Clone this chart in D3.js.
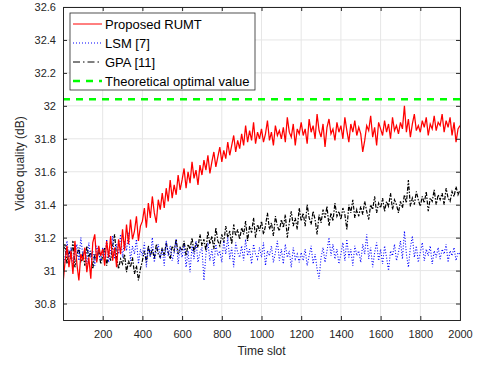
<!DOCTYPE html>
<html lang="en">
<head>
<meta charset="UTF-8">
<title>Video quality vs time slot</title>
<script src="https://d3js.org/d3.v7.min.js"></script>
<style>
    body { margin: 0; background: #fff; }
    svg { display: block; font-family: "Liberation Sans", Arial, sans-serif; }
    .tick text { font-size: 11px; fill: #262626; }
    .legend text { font-size: 13px; fill: #000; }
</style>
</head>
<body>
<svg id="chart" width="481" height="367"></svg>
<script>
// time slots sampled every 10 slots (0 .. 2000)
const slotStep = 10;

// Proposed RUMT
const rumt = [
    30.92, 31.05, 31.15, 31.02, 31.12, 30.98, 31.18, 31.04, 30.94, 31.10,
    31.06, 31.14, 30.99, 31.08, 30.95, 31.17, 31.22, 31.05, 31.15, 31.09,
    31.13, 31.03, 31.18, 31.08, 31.21, 31.06, 31.14, 31.02, 31.19, 31.10,
    31.25, 31.12, 31.28, 31.16, 31.31, 31.19, 31.24, 31.33, 31.18, 31.27,
    31.30, 31.38, 31.26, 31.41, 31.32, 31.45, 31.35, 31.29, 31.43, 31.37,
    31.47, 31.38, 31.50, 31.42, 31.55, 31.44, 31.52, 31.46, 31.58, 31.49,
    31.55, 31.62, 31.50, 31.60, 31.53, 31.66, 31.56, 31.61, 31.52, 31.64,
    31.58, 31.67, 31.61, 31.70, 31.59, 31.66, 31.72, 31.63, 31.69, 31.75,
    31.66, 31.73, 31.68, 31.78, 31.70, 31.76, 31.82, 31.72, 31.79, 31.74,
    31.83, 31.76, 31.88, 31.78, 31.85, 31.79, 31.90, 31.77, 31.84, 31.80,
    31.86, 31.78, 31.83, 31.91, 31.79, 31.84, 31.76, 31.88, 31.82, 31.85,
    31.80, 31.87, 31.78, 31.93, 31.84, 31.81, 31.89, 31.76, 31.86, 31.83,
    31.90, 31.82, 31.86, 31.77, 31.92, 31.84, 31.88, 31.80, 31.95, 31.85,
    31.81, 31.89, 31.75, 31.87, 31.92, 31.83, 31.86, 31.79, 31.90, 31.84,
    31.88, 31.80, 31.93, 31.85, 31.78, 31.89, 31.84, 31.91, 31.82, 31.87,
    31.83, 31.72, 31.79, 31.88, 31.85, 31.94, 31.81, 31.87, 31.76, 31.90,
    31.86, 31.82, 31.91, 31.84, 31.89, 31.80, 31.93, 31.85, 31.88, 31.83,
    31.90, 31.86, 32.00, 31.84, 31.92, 31.81, 31.89, 31.95, 31.85, 31.88,
    31.84, 31.91, 31.87, 31.93, 31.82, 31.89, 31.86, 31.94, 31.85, 31.90,
    31.88, 31.95, 31.84, 31.91, 31.87, 31.93, 31.82, 31.90, 31.78, 31.86,
    31.88
];

// LSM [7]
const lsm = [
    31.12, 31.05, 31.18, 31.08, 31.14, 31.02, 31.10, 31.16, 31.06, 31.20,
    31.09, 31.13, 31.04, 31.17, 31.08, 31.12, 31.03, 31.15, 31.10, 31.06,
    31.14, 31.08, 31.19, 31.05, 31.12, 31.21, 31.07, 31.16, 31.10, 31.22,
    31.08, 31.18, 31.12, 31.23, 31.06, 31.15, 31.10, 31.19, 31.04, 31.13,
    31.09, 31.17, 31.02, 31.14, 31.08, 31.20, 31.05, 31.12, 31.16, 31.07,
    31.13, 31.03, 31.18, 31.09, 31.15, 31.06, 31.11, 31.19, 31.04, 31.14,
    31.08, 31.16, 31.02, 31.12, 30.99, 31.15, 31.07, 31.18, 31.05, 31.11,
    31.14, 30.94, 31.10, 31.17, 31.06, 31.13, 31.03, 31.16, 31.09, 31.12,
    31.05, 31.18, 31.10, 31.20, 31.07, 31.14, 31.02, 31.17, 31.11, 31.08,
    31.15, 31.06, 31.19, 31.09, 31.13, 31.04, 31.16, 31.10, 31.07, 31.14,
    31.08, 31.17, 31.03, 31.12, 31.09, 31.15, 31.05, 31.11, 31.18, 31.06,
    31.13, 31.04, 31.16, 31.08, 31.12, 31.02, 31.14, 31.07, 31.10, 31.05,
    31.11, 31.06, 31.13, 31.03, 31.09, 31.15, 31.04, 31.10, 31.01, 30.95,
    31.08, 31.14, 31.05, 31.12, 31.20, 31.09, 31.16, 31.07, 31.13, 31.04,
    31.10, 31.17, 31.06, 31.19, 31.08, 31.13, 31.03, 31.15, 31.09, 31.12,
    31.05, 31.16, 31.10, 31.22, 31.07, 31.14, 31.02, 31.11, 31.17, 31.06,
    31.13, 31.04, 31.15, 31.08, 31.00, 31.12, 31.09, 31.16, 31.06, 31.11,
    31.18, 31.07, 31.24, 31.10, 31.02, 31.14, 31.21, 31.08, 31.15, 31.05,
    31.11, 31.17, 31.06, 31.13, 31.09, 31.15, 31.04, 31.12, 31.08, 31.14,
    31.07, 31.13, 31.10, 31.16, 31.05, 31.12, 31.09, 31.14, 31.06, 31.11,
    31.10
];

// GPA [11]
const gpa = [
    31.10, 31.16, 31.04, 31.12, 31.07, 31.18, 31.02, 31.09, 31.14, 31.05,
    31.11, 31.03, 31.15, 31.08, 31.12, 31.01, 31.10, 31.06, 31.13, 31.04,
    31.09, 31.14, 31.03, 31.11, 31.06, 31.15, 31.22, 31.08, 31.01, 31.07,
    31.04, 31.10, 30.99, 31.06, 31.02, 31.08, 30.98, 31.03, 30.94, 31.01,
    31.06, 31.12, 31.05, 31.15, 31.09, 31.13, 31.07, 31.16, 31.10, 31.08,
    31.14, 31.09, 31.17, 31.11, 31.07, 31.15, 31.12, 31.19, 31.10, 31.14,
    31.12, 31.18, 31.09, 31.16, 31.13, 31.20, 31.11, 31.17, 31.14, 31.22,
    31.15, 31.19, 31.12, 31.24, 31.16, 31.21, 31.13, 31.26, 31.18, 31.15,
    31.22, 31.17, 31.27, 31.20, 31.24, 31.16, 31.28, 31.21, 31.25, 31.19,
    31.26, 31.22, 31.30, 31.18, 31.27, 31.23, 31.32, 31.20, 31.28, 31.24,
    31.30, 31.22, 31.27, 31.35, 31.25, 31.29, 31.21, 31.33, 31.27, 31.24,
    31.31, 31.26, 31.34, 31.20, 31.29, 31.36, 31.27, 31.32, 31.25, 31.38,
    31.30, 31.35, 31.27, 31.40, 31.32, 31.28, 31.36, 31.31, 31.22, 31.34,
    31.29, 31.37, 31.32, 31.39, 31.27, 31.35, 31.30, 31.41, 31.33, 31.36,
    31.31, 31.38, 31.34, 31.25, 31.40, 31.35, 31.43, 31.32, 31.37, 31.33,
    31.39, 31.34, 31.42, 31.36, 31.31, 31.40, 31.37, 31.45, 31.35, 31.41,
    31.38, 31.44, 31.36, 31.42, 31.39, 31.47, 31.37, 31.43, 31.40, 31.35,
    31.42, 31.38, 31.46, 31.41, 31.55, 31.39, 31.44, 31.40, 31.48, 31.43,
    31.39, 31.45, 31.41, 31.48, 31.36, 31.44, 31.42, 31.49, 31.40, 31.46,
    31.43, 31.47, 31.40, 31.50, 31.44, 31.42, 31.48, 31.45, 31.51, 31.46,
    31.49
];

const optimalValue = 32.04;

const xTicks = [200, 400, 600, 800, 1000, 1200, 1400, 1600, 1800, 2000];
const yTicks = [30.8, 31, 31.2, 31.4, 31.6, 31.8, 32, 32.2, 32.4, 32.6];

const legendLabels = ["Proposed RUMT", "LSM [7]", "GPA [11]", "Theoretical optimal value"];

const margin = { top: 7, right: 21, bottom: 47, left: 63 };
const W = 481, H = 367;
const iw = W - margin.left - margin.right;
const ih = H - margin.top - margin.bottom;
const axisColor = "#262626";

const svg = d3.select("#chart");
const g = svg.append("g").attr("transform", `translate(${margin.left},${margin.top})`);

const x = d3.scaleLinear().domain([0, 2000]).range([0, iw]);
const y = d3.scaleLinear().domain([30.7, 32.6]).range([ih, 0]);

// grid
g.append("g").selectAll("line").data(xTicks).join("line")
    .attr("x1", d => x(d)).attr("x2", d => x(d))
    .attr("y1", 0).attr("y2", ih)
    .attr("stroke", "#e6e6e6").attr("stroke-width", 1);
g.append("g").selectAll("line").data(yTicks).join("line")
    .attr("x1", 0).attr("x2", iw)
    .attr("y1", d => y(d)).attr("y2", d => y(d))
    .attr("stroke", "#e6e6e6").attr("stroke-width", 1);

g.append("clipPath").attr("id", "clip")
    .append("rect").attr("width", iw).attr("height", ih);

const line = d3.line()
    .x((d, i) => x(i * slotStep))
    .y(d => y(d));

const plot = g.append("g").attr("clip-path", "url(#clip)");

// series, drawn black first so red sits on top
plot.append("path").datum(gpa).attr("d", line)
    .attr("fill", "none").attr("stroke", "#000")
    .attr("stroke-width", 1.2).attr("stroke-dasharray", "4,1.5,1.5,1.5");
plot.append("path").datum(lsm).attr("d", line)
    .attr("fill", "none").attr("stroke", "#0000ff")
    .attr("stroke-width", 1.1).attr("stroke-dasharray", "1,1.8");
plot.append("path").datum(rumt).attr("d", line)
    .attr("fill", "none").attr("stroke", "#ff0000")
    .attr("stroke-width", 1.25);

// theoretical optimal value
plot.append("line")
    .attr("x1", x(0)).attr("x2", x(2000))
    .attr("y1", y(optimalValue)).attr("y2", y(optimalValue))
    .attr("stroke", "#00ff00").attr("stroke-width", 2.5)
    .attr("stroke-dasharray", "7,6");

// axes
const xAxis = g.append("g").attr("transform", `translate(0,${ih})`)
    .call(d3.axisBottom(x).tickValues(xTicks).tickSize(-4).tickPadding(10).tickFormat(d3.format("d")));
const xTop = g.append("g")
    .call(d3.axisTop(x).tickValues(xTicks).tickSize(-4).tickFormat(""));
const yAxis = g.append("g")
    .call(d3.axisLeft(y).tickValues(yTicks).tickSize(-4).tickPadding(7).tickFormat(d => d3.format("")(+d.toFixed(1))));
const yRight = g.append("g").attr("transform", `translate(${iw},0)`)
    .call(d3.axisRight(y).tickValues(yTicks).tickSize(-4).tickFormat(""));

[xAxis, xTop, yAxis, yRight].forEach(a => {
    a.select(".domain").attr("stroke", axisColor);
    a.selectAll(".tick line").attr("stroke", axisColor);
});

// axis labels
svg.append("text")
    .attr("x", margin.left + iw / 2).attr("y", 355)
    .attr("text-anchor", "middle")
    .style("font-size", "12px").style("fill", axisColor)
    .text("Time slot");
svg.append("text")
    .attr("transform", `translate(24,${margin.top + ih / 2}) rotate(-90)`)
    .attr("text-anchor", "middle")
    .style("font-size", "12px").style("fill", axisColor)
    .text("Video quality (dB)");

// legend
const legend = svg.append("g").attr("class", "legend").attr("transform", "translate(70,13)");
legend.append("rect")
    .attr("width", 185).attr("height", 77)
    .attr("fill", "#fff").attr("stroke", axisColor).attr("stroke-width", 0.8);

const legendItems = [
    { color: "#ff0000", width: 1, dash: null },
    { color: "#0000ff", width: 1, dash: "1,2" },
    { color: "#000000", width: 1, dash: "7,3,1.5,3" },
    { color: "#00ff00", width: 2.5, dash: "7,6" }
];

legendLabels.forEach((label, i) => {
    const ly = 11 + i * 19;
    const st = legendItems[i];
    legend.append("line")
        .attr("x1", 3).attr("x2", 32).attr("y1", ly).attr("y2", ly)
        .attr("stroke", st.color).attr("stroke-width", st.width)
        .attr("stroke-dasharray", st.dash);
    legend.append("text")
        .attr("x", 35).attr("y", ly).attr("dy", "0.36em")
        .text(label);
});
</script>
</body>
</html>
